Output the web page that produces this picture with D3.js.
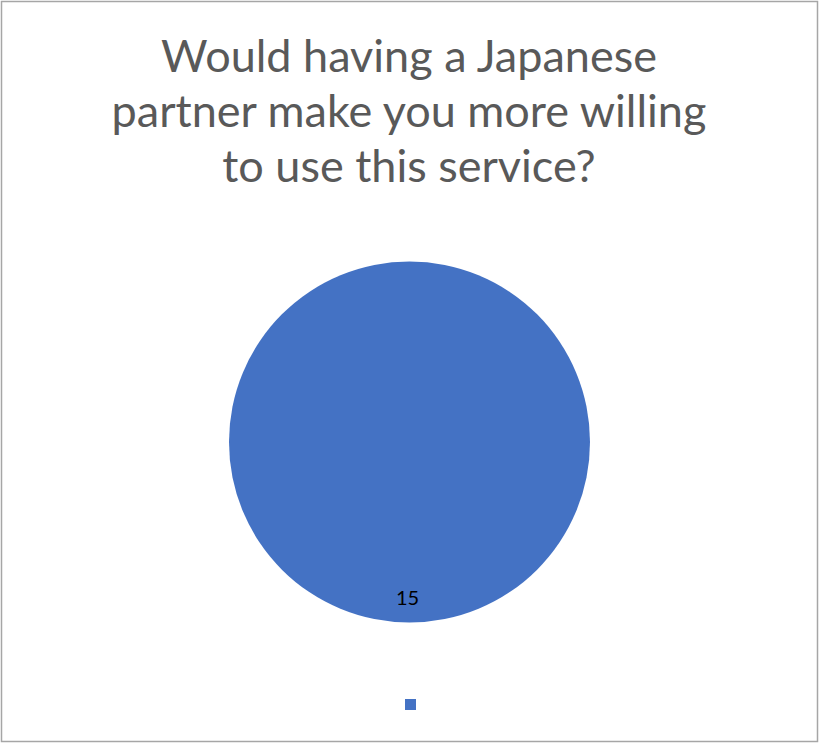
<!DOCTYPE html>
<html>
<head>
<meta charset="utf-8">
<script src="https://cdn.jsdelivr.net/npm/d3@7"></script>
<style>
  html, body { margin: 0; padding: 0; background: #fff; }
  svg { display: block; }
</style>
</head>
<body>
<svg id="chart" width="819" height="743"></svg>
<script>
// Survey answers: one slice, unlabeled category
const categories = [""];
const values = [15];
const colors = ["#4472C4"];
const titleLines = [
  "Would having a Japanese",
  "partner make you more willing",
  "to use this service?"
];

const W = 819, H = 743;
const svg = d3.select("#chart");

// Chart frame
svg.append("rect")
  .attr("x", 1.5).attr("y", 1.5)
  .attr("width", W - 3).attr("height", H - 3)
  .attr("fill", "#fff")
  .attr("stroke", "#a6a6a6")
  .attr("stroke-width", 1.5);

// Title
const title = svg.append("text")
  .attr("text-anchor", "middle")
  .attr("fill", "#595959")
  .style("font-family", "Lato, 'Open Sans', sans-serif")
  .style("font-size", "45px");
title.selectAll("tspan")
  .data(titleLines)
  .join("tspan")
  .attr("x", 409)
  .attr("y", (d, i) => 72 + i * 55)
  .text(d => d);

// Pie
const cx = 409.5, cy = 442, r = 180.5;
const pie = d3.pie().sort(null)(values);
const arc = d3.arc().innerRadius(0).outerRadius(r);
const color = d3.scaleOrdinal().domain(categories).range(colors);

const g = svg.append("g").attr("transform", `translate(${cx},${cy})`);
g.selectAll("path")
  .data(pie)
  .join("path")
  .attr("d", arc)
  .attr("fill", (d, i) => color(categories[i]))
  .attr("stroke", "#fff")
  .attr("stroke-width", 0);

// Data label near the bottom of the slice
g.selectAll("text.val")
  .data(pie)
  .join("text")
  .attr("class", "val")
  .attr("x", -2)
  .attr("y", r - 18)
  .attr("text-anchor", "middle")
  .attr("fill", "#000")
  .style("font-family", "Lato, 'Open Sans', sans-serif")
  .style("font-size", "20px")
  .text(d => d.value);

// Legend
const legend = svg.append("g").attr("transform", "translate(405,699)");
legend.selectAll("rect")
  .data(categories)
  .join("rect")
  .attr("x", 0).attr("y", 0)
  .attr("width", 11).attr("height", 11)
  .attr("fill", d => color(d));
</script>
</body>
</html>
